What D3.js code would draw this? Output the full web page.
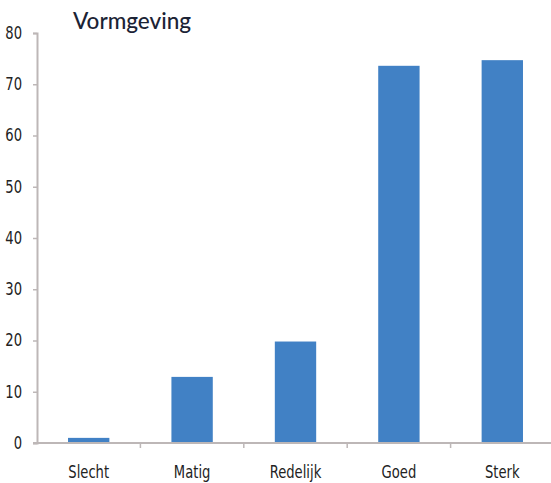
<!DOCTYPE html>
<html>
<head>
<meta charset="utf-8">
<script src="https://cdn.jsdelivr.net/npm/d3@7/dist/d3.min.js"></script>
<style>
  html, body { margin: 0; padding: 0; background: #fff; }
  svg { display: block; }
  .lbl { font-family: "Liberation Sans Narrow", "DejaVu Sans Condensed", "Roboto", sans-serif; font-size: 17px; fill: #222; }
</style>
</head>
<body>
<svg id="chart" width="551" height="483"></svg>
<script>
// Beoordeling van de vormgeving
const categories = ["Slecht", "Matig", "Redelijk", "Goed", "Sterk"];
const values = [1.0, 12.9, 19.8, 73.6, 74.7];
const yTicks = [0, 10, 20, 30, 40, 50, 60, 70, 80];
const title = "Vormgeving";

const svg = d3.select("#chart");
const plot = { left: 37, right: 554, top: 33, bottom: 443 };
const narrow = 0.86; // horizontal squeeze for the condensed label face

const x = d3.scaleBand().domain(categories).range([plot.left, plot.right]).paddingInner(0.6).paddingOuter(0.3);
const xBounds = d3.scaleBand().domain(categories).range([plot.left, plot.right]);
const y = d3.scaleLinear().domain([0, 80]).range([plot.bottom, plot.top]);

const axisColor = "#bdb7b7";

// Bars
svg.append("g").selectAll("rect").data(values).join("rect")
  .attr("x", (d, i) => x(categories[i]))
  .attr("width", x.bandwidth())
  .attr("y", d => y(d))
  .attr("height", d => y(0) - y(d))
  .attr("fill", "#4181c5");

// Y axis
const yAxis = svg.append("g")
  .attr("transform", `translate(${plot.left},0)`)
  .call(d3.axisLeft(y).tickValues(yTicks).tickSize(4).tickPadding(11));
yAxis.select(".domain").attr("stroke", axisColor).attr("stroke-width", 2);
yAxis.selectAll(".tick line").attr("stroke", axisColor).attr("stroke-width", 1.5);
yAxis.selectAll(".tick text")
  .attr("class", "lbl")
  .attr("font-size", null).attr("font-family", null).attr("fill", null)
  .attr("transform", function () { return `translate(${+d3.select(this).attr("x")},0) scale(${narrow},1)`; })
  .attr("x", 0);
yAxis.attr("font-size", null).attr("font-family", null);

// X axis: tick marks at category boundaries, labels centred beneath
const xAxis = svg.append("g").attr("transform", `translate(0,${plot.bottom})`);
xAxis.append("line")
  .attr("x1", plot.left - 4).attr("x2", plot.right)
  .attr("stroke", axisColor).attr("stroke-width", 2);
xAxis.selectAll("line.b").data(categories.slice(1)).join("line")
  .attr("class", "b")
  .attr("x1", d => xBounds(d)).attr("x2", d => xBounds(d))
  .attr("y1", 0).attr("y2", 5)
  .attr("stroke", axisColor).attr("stroke-width", 1.5);
xAxis.selectAll("text").data(categories).join("text")
  .attr("class", "lbl")
  .attr("transform", d => `translate(${xBounds(d) + xBounds.bandwidth() / 2},35) scale(${narrow},1)`)
  .attr("text-anchor", "middle")
  .text(d => d);

// Title
svg.append("text")
  .attr("x", 73).attr("y", 29)
  .style("font-family", "Lato, 'Open Sans', sans-serif")
  .style("font-size", "22.5px")
  .style("font-weight", "500")
  .attr("fill", "#1b2335")
  .text(title);
</script>
</body>
</html>
